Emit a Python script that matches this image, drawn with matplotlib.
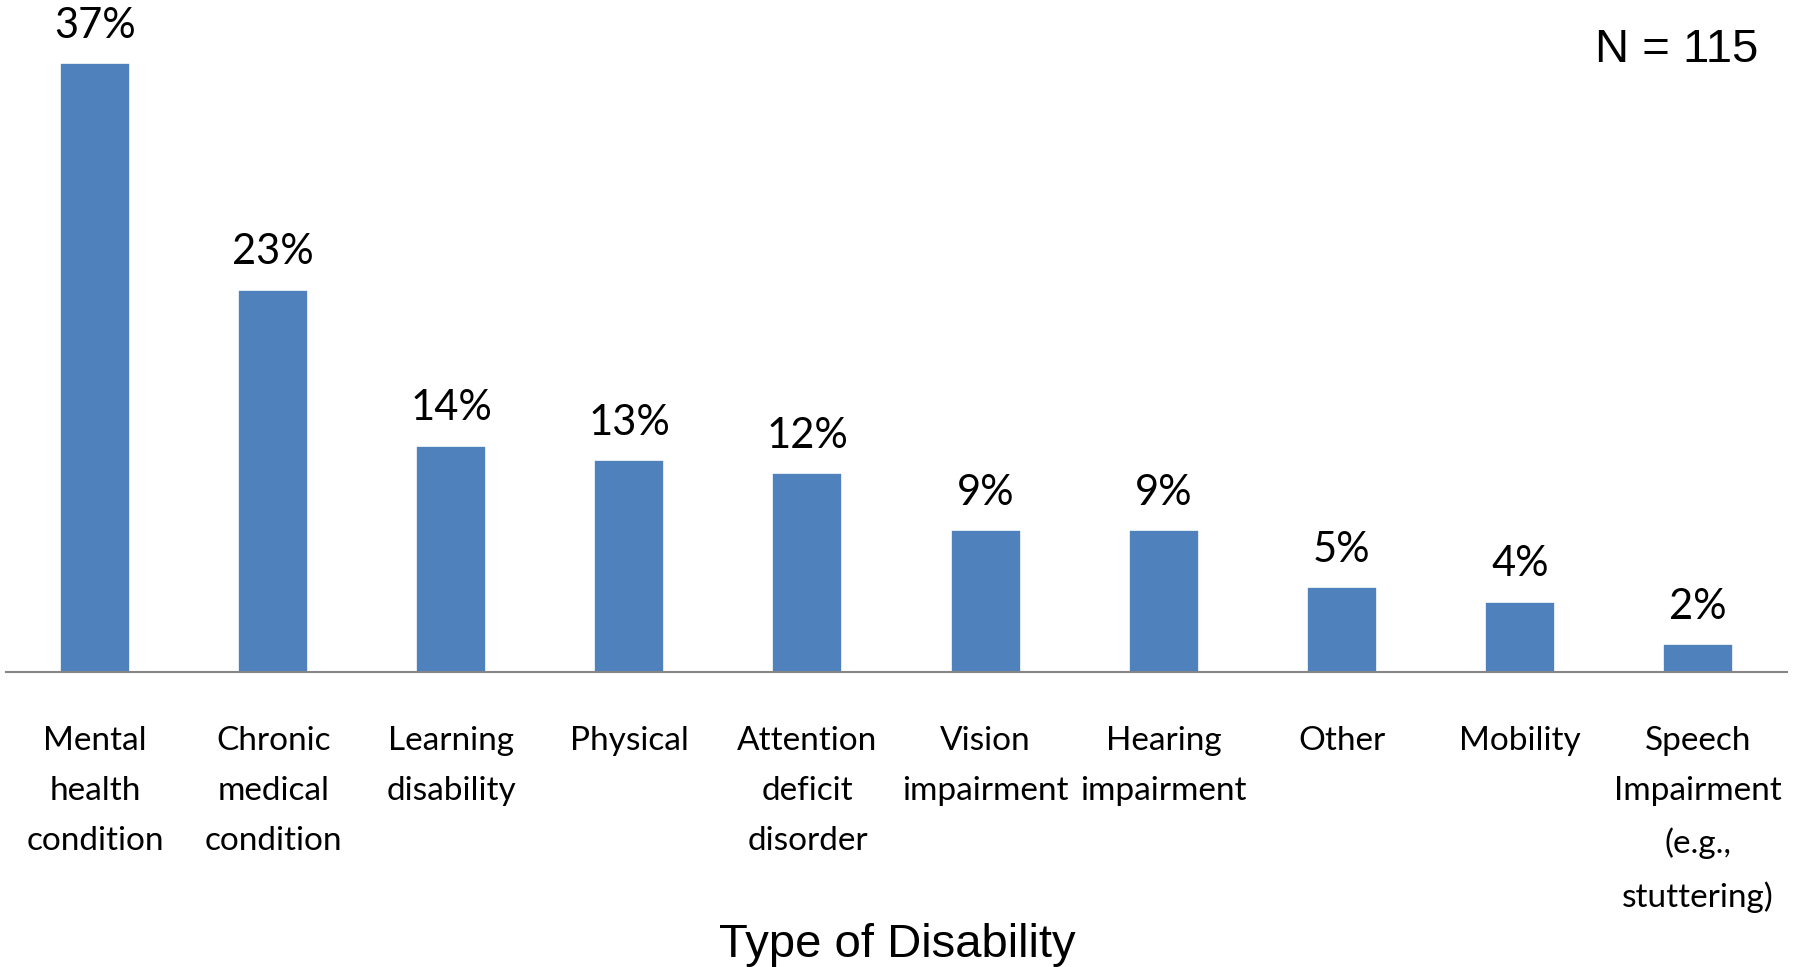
import matplotlib.pyplot as plt

categories = ['Mental\nhealth\ncondition', 'Chronic\nmedical\ncondition', 'Learning\ndisability',
              'Physical', 'Attention\ndeficit\ndisorder', 'Vision\nimpairment', 'Hearing\nimpairment',
              'Other', 'Mobility', 'Speech\nImpairment\n(e.g.,\nstuttering)']
percents = [37.4, 23.5, 13.9, 13.0, 12.2, 8.7, 8.7, 5.2, 4.3, 1.7]
value_labels = ['37%', '23%', '14%', '13%', '12%', '9%', '9%', '5%', '4%', '2%']

fig = plt.figure(figsize=(18.04, 9.67), dpi=100)
ax = fig.add_axes([6 / 1804, 1 - 672 / 967, 1781 / 1804, 672 / 967])

x = range(len(percents))
ax.bar(x, percents, width=0.393, color='#4F81BD', edgecolor='white', linewidth=1.2, zorder=2)
ax.set_xlim(-0.5, 9.5)
ax.set_ylim(0, 41.3)

for i, (v, lab) in enumerate(zip(percents, value_labels)):
    ax.annotate(lab, (i, v), xytext=(0, 18.5), textcoords='offset points',
                ha='center', va='baseline', fontsize=30, family='Lato')

ax.set_xticks(list(x))
ax.set_xticklabels(categories, fontsize=24, family='Lato', linespacing=1.84, va='top')
ax.tick_params(axis='x', length=0, pad=39)
ax.set_yticks([])
for s in ['top', 'right', 'left']:
    ax.spines[s].set_visible(False)
ax.spines['bottom'].set_color('#868686')
ax.spines['bottom'].set_linewidth(1.5)

fig.text(1758 / 1804, 1 - 62 / 967, 'N = 115', ha='right', va='baseline',
         fontsize=34, family='Liberation Sans')
fig.text(897 / 1804, 1 - 957 / 967, 'Type of Disability', ha='center', va='baseline',
         fontsize=34, family='Liberation Sans')

fig.savefig('out.png', dpi=100)
